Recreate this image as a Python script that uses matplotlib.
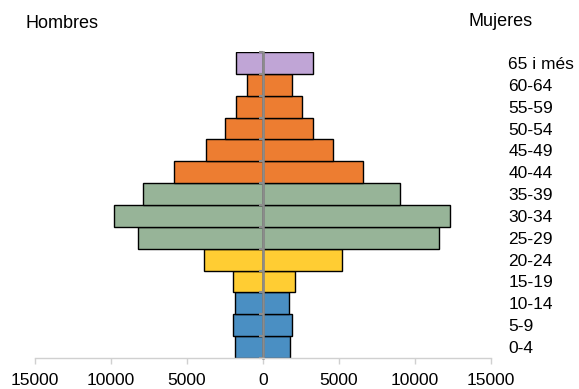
import numpy as np
import matplotlib
matplotlib.use("Agg")
import matplotlib.pyplot as plt
from matplotlib import rcParams

rcParams.update({
    'font.family': 'Liberation Sans',
    'font.size': 12.5,
})

ages = ["0-4", "5-9", "10-14", "15-19", "20-24", "25-29", "30-34",
        "35-39", "40-44", "45-49", "50-54", "55-59", "60-64", "65 i més"]
hombres = [1820, 1950, 1820, 1970, 3900, 8250, 9800,
           7920, 5860, 3730, 2500, 1750, 1050, 1750]
mujeres = [1750, 1900, 1730, 2100, 5200, 11600, 12280,
           8990, 6600, 4580, 3310, 2550, 1930, 3270]
group_colors = ["#4A8FC3"] * 3 + ["#FFCD33"] * 2 + ["#97B498"] * 3 + \
               ["#ED7D31"] * 5 + ["#C0A5D6"]
xticks = [-15000, -10000, -5000, 0, 5000, 10000, 15000]

fig = plt.figure(figsize=(5.79, 3.89), dpi=100)
ax = fig.add_axes([0.0605, 0.0797, 0.848 - 0.0605, 0.8663 - 0.0797])

y = np.arange(len(ages))
ax.barh(y, -np.array(hombres), height=1.0, color=group_colors,
        edgecolor="black", linewidth=1)
ax.barh(y, mujeres, height=1.0, color=group_colors,
        edgecolor="black", linewidth=1)

ax.set_xlim(-15000, 15000)
ax.set_ylim(-0.5, len(ages) - 0.5)

# central axis with small ticks between age groups
for s in ["top", "right"]:
    ax.spines[s].set_visible(False)
ax.spines["left"].set_position(("data", 0))
ax.spines["left"].set_color("#8c8c8c")
ax.spines["left"].set_linewidth(1.8)
ax.spines["bottom"].set_color("#d0d0d0")
ax.spines["bottom"].set_linewidth(1)

ax.set_yticks(y)
ax.set_yticklabels(ages)
ax.set_yticks(np.arange(len(ages) + 1) - 0.5, minor=True)
ax.tick_params(axis="y", which="major", left=False, labelleft=False,
               right=False, labelright=True, pad=9)
ax.tick_params(axis="y", which="minor", left=True, right=False,
               length=3, width=1.5, color="#8c8c8c")

ax.set_xticks(xticks)
ax.set_xticklabels([str(abs(v)) for v in xticks])
ax.tick_params(axis="x", length=4, width=1, color="#d0d0d0", pad=7)
for lab in ax.get_yticklabels():
    lab.set_horizontalalignment("left")

fig.text(62 / 579, 1 - 24 / 389, "Hombres", ha="center", va="center",
         fontsize=13)
fig.text(501 / 579, 1 - 22 / 389, "Mujeres", ha="center", va="center",
         fontsize=13)

fig.savefig("out.png", dpi=100)
